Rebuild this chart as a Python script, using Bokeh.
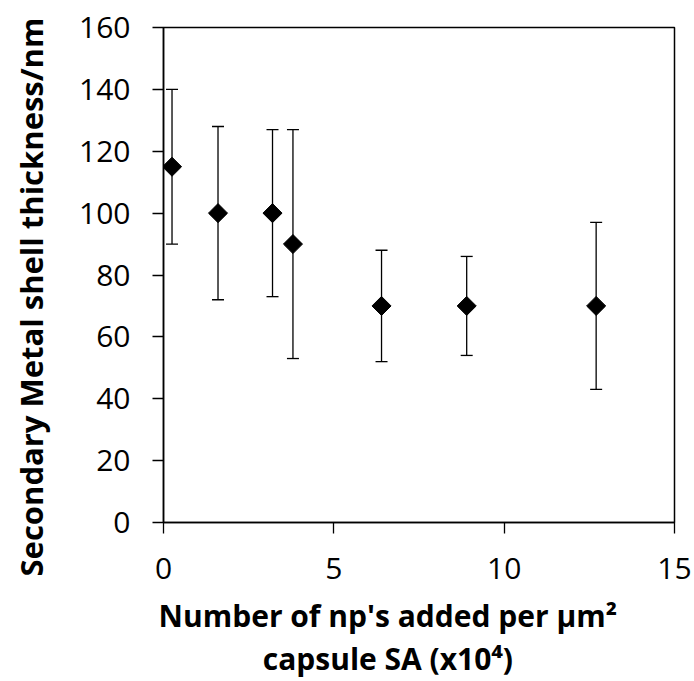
import numpy as np
from bokeh.plotting import figure
from bokeh.models import ColumnDataSource, Whisker, TeeHead, FixedTicker, Range1d, Title
from bokeh.embed import file_html
from bokeh.resources import INLINE

# Data
np_added = [0.25, 1.6, 3.2, 3.8, 6.4, 8.9, 12.7]
thickness = [115, 100, 100, 90, 70, 70, 70]
err_low = [90, 72, 73, 53, 52, 54, 43]
err_high = [140, 128, 127, 127, 88, 86, 97]
x_ticks = [0, 5, 10, 15]
y_ticks = [0, 20, 40, 60, 80, 100, 120, 140, 160]
x_title = ["Number of np's added per µm²", "capsule SA (x10⁴)"]
y_title = "Secondary Metal shell thickness/nm"

src = ColumnDataSource(dict(x=np_added, y=thickness, lo=err_low, hi=err_high))

FONT = "Open Sans"
NB = "\u00a0"  # trailing non-breaking spaces shift the centred x title like the reference

p = figure(width=694, height=681, output_backend="svg", toolbar_location=None,
           x_range=Range1d(0, 15), y_range=Range1d(0, 160),
           min_border_left=163, min_border_right=20, min_border_top=27,
           min_border_bottom=158)

p.xgrid.visible = False
p.ygrid.visible = False
p.outline_line_color = "black"
p.outline_line_width = 1.5
p.background_fill_color = "white"
p.border_fill_color = "white"

whisk = Whisker(source=src, base="x", upper="hi", lower="lo", dimension="height",
                line_color="black", line_width=1.3,
                upper_head=TeeHead(size=12, line_color="black", line_width=1.3),
                lower_head=TeeHead(size=12, line_color="black", line_width=1.3))
p.add_layout(whisk)

p.scatter("x", "y", source=src, marker="square", size=13.5, angle=np.pi / 4,
          fill_color="black", line_color="black")

for ax in (p.xaxis[0], p.yaxis[0]):
    ax.axis_line_color = "black"
    ax.axis_line_width = 1.5
    ax.major_tick_line_color = "black"
    ax.major_tick_line_width = 1.3
    ax.major_tick_out = 11
    ax.major_tick_in = 0
    ax.minor_tick_line_color = None
    ax.major_label_text_font = FONT
    ax.major_label_text_font_size = "30px"
    ax.major_label_text_color = "black"
    ax.axis_label_text_font = FONT
    ax.axis_label_text_font_style = "bold"
    ax.axis_label_text_color = "black"

p.xaxis.ticker = FixedTicker(ticks=x_ticks)
p.yaxis.ticker = FixedTicker(ticks=y_ticks)
p.xaxis.major_label_standoff = 24
p.yaxis.major_label_standoff = 22

p.xaxis.axis_label = "\n".join(t + NB * 8 for t in x_title)
p.xaxis.axis_label_text_font_size = "30px"
p.xaxis.axis_label_text_line_height = 1.05
p.xaxis.axis_label_standoff = 13

# spacer between tick labels and the y title
p.yaxis.axis_label = NB
p.yaxis.axis_label_text_font_size = "2px"
p.yaxis.axis_label_standoff = 14

# y title placed like the reference: starting below the frame bottom
p.add_layout(Title(text=y_title, align="left", offset=-54, text_font=FONT,
                   text_font_size="31px", text_font_style="bold",
                   text_color="black", standoff=10), "left")

open("out.html", "w").write(file_html(p, INLINE))
